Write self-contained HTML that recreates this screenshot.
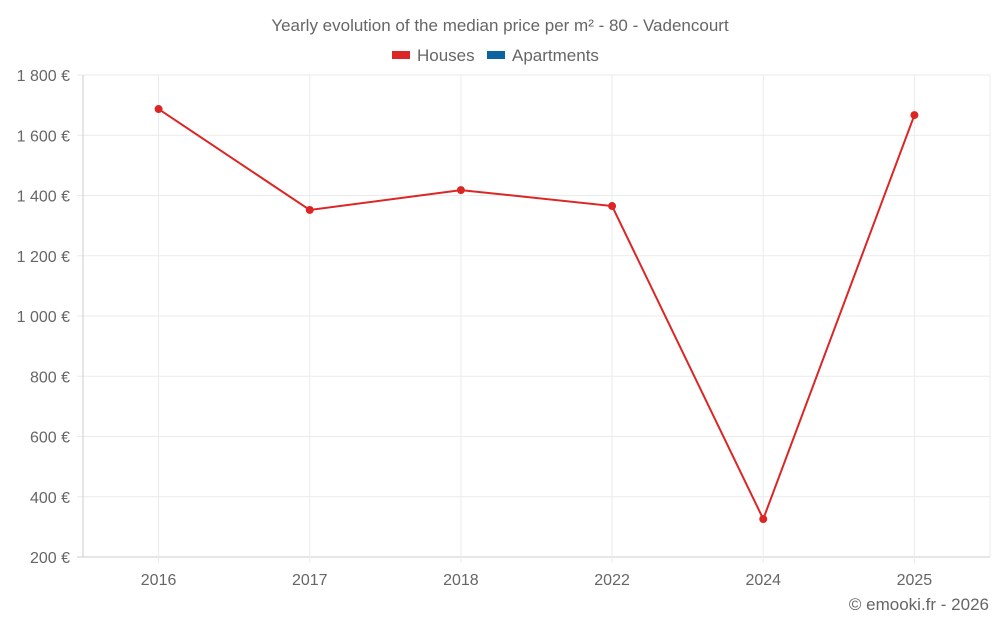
<!DOCTYPE html>
<html><head><meta charset="utf-8"><style>
body{margin:0;background:#fff;font-family:"Liberation Sans",sans-serif;}
svg text{font-family:"Liberation Sans",sans-serif;fill:#666;}
</style></head><body>
<svg id="chart" width="1000" height="625" xmlns="http://www.w3.org/2000/svg">
<text x="500" y="31" text-anchor="middle" font-size="17">Yearly evolution of the median price per m² - 80 - Vadencourt</text>
<g>
<rect x="392" y="51" width="18" height="8" fill="#dc2626"/>
<text x="417" y="61" font-size="17">Houses</text>
<rect x="487" y="51" width="18" height="8" fill="#0b64a0"/>
<text x="512" y="61" font-size="17">Apartments</text>
</g>
<g id="grid"></g><g id="axes"></g><g id="series"></g>
<text x="989" y="610" text-anchor="end" font-size="17">© emooki.fr - 2026</text>
</svg>
<script>
const categories=["2016","2017","2018","2022","2024","2025"];
const housesValues=[1687,1352,1418,1365,326,1667];
const yTicks=[200,400,600,800,1000,1200,1400,1600,1800];
const yTickLabels=["200 €","400 €","600 €","800 €","1 000 €","1 200 €","1 400 €","1 600 €","1 800 €"];
const NS="http://www.w3.org/2000/svg";
const L=83,R=990,T=75,B=557,ymin=200,ymax=1800;
const bw=(R-L)/categories.length;
function xs(i){return L+bw*(i+0.5);}
function ys(v){return B-(v-ymin)/(ymax-ymin)*(B-T);}
function mk(tag,attrs,parent){const e=document.createElementNS(NS,tag);for(const k in attrs)e.setAttribute(k,attrs[k]);parent.appendChild(e);return e;}
const grid=document.getElementById('grid'),axes=document.getElementById('axes'),ser=document.getElementById('series');
yTicks.forEach((v,i)=>{
 const l=mk('line',{x1:L-6,x2:R,y1:ys(v),y2:ys(v),stroke:i==0?'#ccc':'#ebebeb','stroke-width':1},grid);
 
 
 const t=mk('text',{x:70,y:ys(v)+6,'text-anchor':'end','font-size':16},axes);
 t.textContent=yTickLabels[i];
 
 
});
[L,R].forEach(x=>{const l=mk('line',{x1:x,x2:x,y1:T,y2:B,stroke:x==L?'#ccc':'#ebebeb'},grid);
 
 });
categories.forEach((c,i)=>{
 const l=mk('line',{x1:xs(i),x2:xs(i),y1:T,y2:B+6,stroke:'#ebebeb'},grid);
 
 
 const t=mk('text',{x:xs(i),y:585,'text-anchor':'middle','font-size':16},axes);
 t.textContent=c;
 
 
});
const p=mk('polyline',{points:housesValues.map((v,i)=>xs(i)+','+ys(v)).join(' '),fill:'none',stroke:'#dc2626','stroke-width':2},ser);


housesValues.forEach((v,i)=>{
 const c=mk('circle',{cx:xs(i),cy:ys(v),r:4,fill:'#dc2626'},ser);
 
 
});
</script>
</body></html>
